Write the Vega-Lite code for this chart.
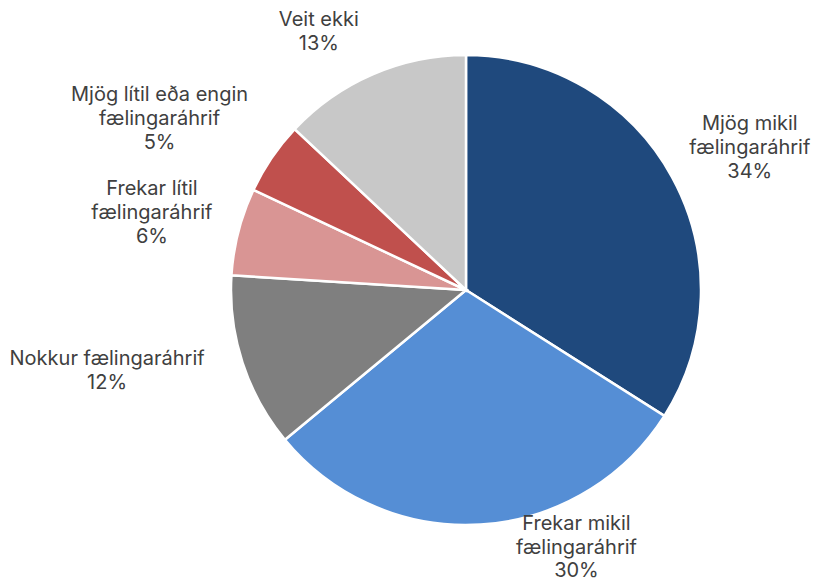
{
  "$schema": "https://vega.github.io/schema/vega-lite/v6.json",
  "autosize": "none",
  "width": 700,
  "height": 580,
  "padding": {"left": 116, "top": 0, "right": 11, "bottom": 3},
  "background": "white",
  "view": {"stroke": null},
  "data": {
    "values": [
      {"i": 1, "cat": "Mjög mikil fælingaráhrif", "pct": 34, "label": "Mjög mikil\nfælingaráhrif\n34%"},
      {"i": 2, "cat": "Frekar mikil fælingaráhrif", "pct": 30, "label": "Frekar mikil\nfælingaráhrif\n30%"},
      {"i": 3, "cat": "Nokkur fælingaráhrif", "pct": 12, "label": "Nokkur fælingaráhrif\n12%"},
      {"i": 4, "cat": "Frekar lítil fælingaráhrif", "pct": 6, "label": "Frekar lítil\nfælingaráhrif\n6%"},
      {"i": 5, "cat": "Mjög lítil eða engin fælingaráhrif", "pct": 5, "label": "Mjög lítil eða engin\nfælingaráhrif\n5%"},
      {"i": 6, "cat": "Veit ekki", "pct": 13, "label": "Veit ekki\n13%"}
    ]
  },
  "encoding": {
    "theta": {"field": "pct", "type": "quantitative", "stack": true},
    "order": {"field": "i", "type": "quantitative"}
  },
  "layer": [
    {
      "mark": {"type": "arc", "outerRadius": 235, "stroke": "white", "strokeWidth": 2.5},
      "encoding": {
        "color": {
          "field": "cat", "type": "nominal", "legend": null,
          "scale": {
            "domain": ["Mjög mikil fælingaráhrif", "Frekar mikil fælingaráhrif", "Nokkur fælingaráhrif", "Frekar lítil fælingaráhrif", "Mjög lítil eða engin fælingaráhrif", "Veit ekki"],
            "range": ["#1f497d", "#558ed5", "#7f7f7f", "#d99594", "#c0504d", "#c8c8c8"]
          }
        }
      }
    },
    {
      "mark": {"type": "text", "radius": 317, "dx": 6, "dy": -13, "lineBreak": "\n", "font": "Inter", "fontSize": 20, "letterSpacing": 0.4, "fill": "#404040", "lineHeight": 24, "align": "center", "baseline": "middle"},
      "encoding": {"text": {"condition": {"test": "datum.i === 1", "field": "label"}, "value": ""}}
    },
    {
      "mark": {"type": "text", "radius": 262, "dx": 94, "dy": -27, "lineBreak": "\n", "font": "Inter", "fontSize": 20, "letterSpacing": 0.4, "fill": "#404040", "lineHeight": 23.5, "align": "center", "baseline": "middle"},
      "encoding": {"text": {"condition": {"test": "datum.i === 2", "field": "label"}, "value": ""}}
    },
    {
      "mark": {"type": "text", "radius": 390, "dx": 12, "dy": -52, "lineBreak": "\n", "font": "Inter", "fontSize": 20, "letterSpacing": 0.4, "fill": "#404040", "lineHeight": 24, "align": "center", "baseline": "middle"},
      "encoding": {"text": {"condition": {"test": "datum.i === 3", "field": "label"}, "value": ""}}
    },
    {
      "mark": {"type": "text", "radius": 316, "dx": -8, "dy": -22, "lineBreak": "\n", "font": "Inter", "fontSize": 20, "letterSpacing": 0.4, "fill": "#404040", "lineHeight": 24, "align": "center", "baseline": "middle"},
      "encoding": {"text": {"condition": {"test": "datum.i === 4", "field": "label"}, "value": ""}}
    },
    {
      "mark": {"type": "text", "radius": 350, "dx": -17, "dy": 2, "lineBreak": "\n", "font": "Inter", "fontSize": 20, "letterSpacing": 0.4, "fill": "#404040", "lineHeight": 24, "align": "center", "baseline": "middle"},
      "encoding": {"text": {"condition": {"test": "datum.i === 5", "field": "label"}, "value": ""}}
    },
    {
      "mark": {"type": "text", "radius": 285, "dx": -34, "dy": -8, "lineBreak": "\n", "font": "Inter", "fontSize": 20, "letterSpacing": 0.4, "fill": "#404040", "lineHeight": 24, "align": "center", "baseline": "middle"},
      "encoding": {"text": {"condition": {"test": "datum.i === 6", "field": "label"}, "value": ""}}
    }
  ]
}
